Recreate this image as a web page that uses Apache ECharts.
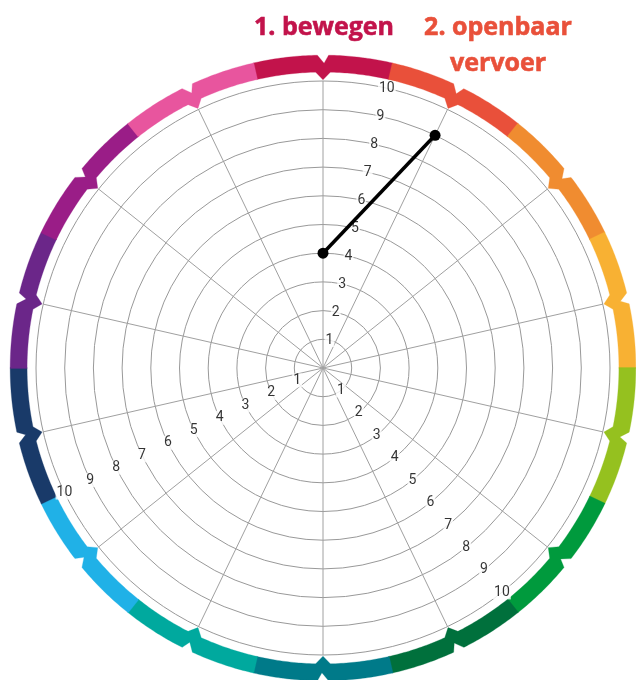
<!DOCTYPE html>
<html><head><meta charset="utf-8">
<script src="https://cdn.jsdelivr.net/npm/echarts@6/dist/echarts.min.js"></script>
<style>html,body{margin:0;padding:0;background:#fff}#c{width:636px;height:680px}</style>
</head><body><div id="c"></div>
<script>
// ---- data ----
const sectorCount = 14;
const sectorColors = ['#c2134b','#e9503a','#f08c30','#f8b133','#95c11f','#009a3d','#00703c','#007a89','#00a99e','#20b1e7','#193a69','#6b2689','#9a1d87','#e8559e'];
const tickLabels = ['1','2','3','4','5','6','7','8','9','10'];
const tickLabelAngles = [0.5, 5.5, 9.5];
const lineValues = [4, 9];
const lineAngles = [0, 1];
const titleMain = '1. bewegen';
const titleSecond = '2. openbaar\nvervoer';

// ---- build ----
const chart = echarts.init(document.getElementById('c'), null, {renderer: 'canvas'});

function bandItem(params, api) {
  const c = api.value(1);
  const a0 = c - 0.503, a1 = c + 0.503;
  const Ri = 10.31, Ro = 10.9, Rt = 10.04, Rd = 10.62, wi = 0.055, wo = 0.04;
  const step = 0.02;
  const pts = [];
  for (let a = a0; a < c - wo; a += step) pts.push(api.coord([Ro, a]));
  pts.push(api.coord([Ro, c - wo]));
  pts.push(api.coord([Rd, c + 0.008]));
  pts.push(api.coord([Ro, c + wo]));
  for (let a = c + wo + step; a < a1; a += step) pts.push(api.coord([Ro, a]));
  pts.push(api.coord([Ro, a1]));
  pts.push(api.coord([Ri, a1]));
  for (let a = a1 - step; a > c + wi; a -= step) pts.push(api.coord([Ri, a]));
  pts.push(api.coord([Ri, c + wi]));
  pts.push(api.coord([Rt, c]));
  pts.push(api.coord([Ri, c - wi]));
  for (let a = c - wi - step; a > a0; a -= step) pts.push(api.coord([Ri, a]));
  pts.push(api.coord([Ri, a0]));
  const col = sectorColors[params.dataIndex];
  return {type: 'polygon', shape: {points: pts}, style: {fill: col, stroke: col, lineWidth: 0.3}};
}

const labelData = [];
tickLabelAngles.forEach(a => {
  tickLabels.forEach(t => labelData.push({name: t, value: [Number(t), a]}));
});

const option = {
  animation: false,
  backgroundColor: '#fff',
  polar: {center: [323, 368], radius: 287},
  angleAxis: {
    type: 'value', min: 0, max: sectorCount, interval: 1, startAngle: 90, clockwise: true,
    axisLine: {show: false}, axisTick: {show: false}, axisLabel: {show: false},
    splitLine: {show: true, lineStyle: {color: '#a0a0a0', width: 1}}
  },
  radiusAxis: {
    type: 'value', min: 0, max: 10, interval: 1,
    axisLine: {show: false}, axisTick: {show: false}, axisLabel: {show: false},
    splitLine: {show: true, lineStyle: {color: '#999', width: 1}}
  },
  series: [
    {
      type: 'custom', coordinateSystem: 'polar', z: 3,
      data: sectorColors.map((c, i) => [0, i]),
      renderItem: bandItem, silent: true
    },
    {
      type: 'scatter', coordinateSystem: 'polar', z: 4, symbolSize: 0,
      data: labelData, silent: true,
      label: {
        show: true, position: 'inside', formatter: '{b}', color: '#000',
        fontFamily: '"Liberation Sans Narrow", "Arial Narrow", Roboto, sans-serif',
        fontSize: 14, backgroundColor: '#fff', padding: [0, 1]
      }
    },
    {
      type: 'line', coordinateSystem: 'polar', z: 5,
      data: lineValues.map((v, i) => [v, lineAngles[i]]),
      symbol: 'circle', symbolSize: 11, showSymbol: true,
      lineStyle: {color: '#000', width: 3.5},
      itemStyle: {color: '#000'}
    }
  ],
  graphic: [
    {type: 'text', x: 324, y: 10, z: 10, style: {text: titleMain, fill: '#c2134b', stroke: '#c2134b', lineWidth: 0.6,
      font: 'bold 25px "Open Sans", sans-serif', align: 'center', textAlign: 'center', verticalAlign: 'top', textVerticalAlign: 'top', lineHeight: 36}},
    {type: 'text', x: 498, y: 10, z: 10, style: {text: titleSecond, fill: '#e9503a', stroke: '#e9503a', lineWidth: 0.6,
      font: 'bold 25px "Open Sans", sans-serif', align: 'center', textAlign: 'center', verticalAlign: 'top', textVerticalAlign: 'top', lineHeight: 36}}
  ]
};
chart.setOption(option);
</script></body></html>
